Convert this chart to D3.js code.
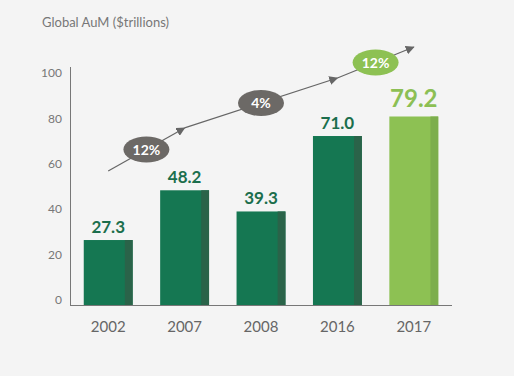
<html lang="en">
<head>
<style>
body { margin: 0; background: #f4f4f4; }
text { font-family: Lato, "Open Sans", sans-serif; }
</style>
</head>
<body>
<script type='text/javascript' src='https://d3js.org/d3.v7.min.js'></script>
<script>
// data
const years = ["2002", "2007", "2008", "2016", "2017"];
const aum = [27.3, 48.2, 39.3, 71.0, 79.2];
const yTicks = [0, 20, 40, 60, 80, 100];
// growth arrow: vertices (year, value) and the rate on each leg
const arrowYears = ["2002", "2007", "2016", "2017"];
const arrowVals = [56.3, 74.4, 95.4, 108.4];
const growth = ["12%", "4%", "12%"];

const W = 514, H = 376;
const svg = d3.select('body').append('svg')
  .attr('width', W).attr('height', H);

svg.append('rect').attr('width', W).attr('height', H).attr('fill', '#f4f4f4');

const x = d3.scaleBand()
  .domain(years)
  .range([70, 452])
  .paddingInner(0.36)
  .paddingOuter(0.18);

const y = d3.scaleLinear()
  .domain([0, 100])
  .range([305, 67]);

// tick labels sit slightly inside the axis ends
const yLab = d3.scaleLinear().domain([0, 100]).range([300, 73]);

// title
svg.append('text')
  .attr('x', 42).attr('y', 27)
  .attr('fill', '#777')
  .attr('font-size', 13)
  .text('Global AuM ($trillions)');

// axes lines
svg.append('line')
  .attr('x1', 70.5).attr('x2', 70.5)
  .attr('y1', y(100)).attr('y2', y(0))
  .attr('stroke', '#777').attr('stroke-width', 1);
svg.append('line')
  .attr('x1', 70).attr('x2', 452)
  .attr('y1', y(0) + 0.5).attr('y2', y(0) + 0.5)
  .attr('stroke', '#777').attr('stroke-width', 1);

svg.selectAll('.ytick')
  .data(yTicks)
  .enter().append('text')
  .attr('class', 'ytick')
  .attr('x', 62)
  .attr('y', d => yLab(d))
  .attr('dy', '0.35em')
  .attr('text-anchor', 'end')
  .attr('fill', '#777')
  .attr('font-size', 12)
  .text(d => d);

// bars
const bars = years.map((yr, i) => ({year: yr, value: aum[i], last: i === years.length - 1}));
const strip = x.bandwidth() * 0.16;

const g = svg.selectAll('.bar')
  .data(bars)
  .enter().append('g')
  .attr('class', 'bar');

g.append('rect')
  .attr('x', d => x(d.year))
  .attr('y', d => y(d.value))
  .attr('width', x.bandwidth())
  .attr('height', d => y(0) - y(d.value))
  .attr('fill', d => d.last ? '#8dc153' : '#157752');

g.append('rect')
  .attr('x', d => x(d.year) + x.bandwidth() - strip)
  .attr('y', d => y(d.value))
  .attr('width', strip)
  .attr('height', d => y(0) - y(d.value))
  .attr('fill', d => d.last ? '#7dae4d' : '#2a6349');

g.append('text')
  .attr('x', d => x(d.year) + x.bandwidth() / 2)
  .attr('y', d => y(d.value) - (d.last ? 10 : 7))
  .attr('text-anchor', 'middle')
  .attr('font-weight', 'bold')
  .attr('font-size', d => d.last ? 24 : 17)
  .attr('fill', d => d.last ? '#8cbf54' : '#1b6e4c')
  .text(d => d.value.toFixed(1));

// year labels
svg.selectAll('.xlab')
  .data(years)
  .enter().append('text')
  .attr('class', 'xlab')
  .attr('x', d => x(d) + x.bandwidth() / 2)
  .attr('y', 332)
  .attr('text-anchor', 'middle')
  .attr('fill', '#666')
  .attr('font-size', 15)
  .text(d => d);

// growth arrow
svg.append('defs').append('marker')
  .attr('id', 'head')
  .attr('viewBox', '0 0 10 10')
  .attr('refX', 9).attr('refY', 5)
  .attr('markerWidth', 9).attr('markerHeight', 9)
  .attr('markerUnits', 'userSpaceOnUse')
  .attr('orient', 'auto')
  .append('path')
  .attr('d', 'M0,0 L10,5 L0,10 Z')
  .attr('fill', '#666');

const pts = arrowYears.map((yr, i) => [x(yr) + x.bandwidth() / 2, y(arrowVals[i])]);

for (let i = 0; i < pts.length - 1; i++) {
  svg.append('line')
    .attr('x1', pts[i][0]).attr('y1', pts[i][1])
    .attr('x2', pts[i + 1][0]).attr('y2', pts[i + 1][1])
    .attr('stroke', '#666').attr('stroke-width', 1.2)
    .attr('marker-end', 'url(#head)');
}

const pills = growth.map((g, i) => ({
  label: g,
  cx: (pts[i][0] + pts[i + 1][0]) / 2,
  cy: (pts[i][1] + pts[i + 1][1]) / 2,
  last: i === growth.length - 1
}));

const p = svg.selectAll('.pill')
  .data(pills)
  .enter().append('g')
  .attr('class', 'pill');

p.append('ellipse')
  .attr('cx', d => d.cx).attr('cy', d => d.cy)
  .attr('rx', 23).attr('ry', 13)
  .attr('fill', d => d.last ? '#8dc153' : '#6c6966');

p.append('text')
  .attr('x', d => d.cx).attr('y', d => d.cy)
  .attr('dy', '0.36em')
  .attr('text-anchor', 'middle')
  .attr('font-weight', 'bold')
  .attr('font-size', 14)
  .attr('fill', '#fff')
  .text(d => d.label);
</script>
</body>
</html>
